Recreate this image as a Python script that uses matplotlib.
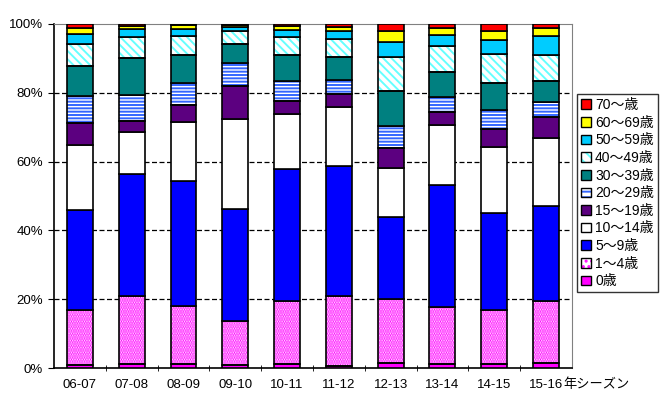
import numpy as np
import matplotlib.pyplot as plt
from matplotlib.patches import Patch
from matplotlib.ticker import FuncFormatter

plt.rcParams['font.family'] = ['Liberation Sans', 'Noto Sans CJK JP']
plt.rcParams['hatch.linewidth'] = 1.4

# data (% share per season)
seasons = ['06-07', '07-08', '08-09', '09-10', '10-11', '11-12', '12-13', '13-14', '14-15', '15-16']
age_0 = [0.9, 1.3, 1.3, 0.9, 1.3, 0.8, 1.4, 1.2, 1.2, 1.4]
age_1_4 = [15.9, 19.6, 16.7, 12.7, 18.1, 20.1, 18.6, 16.5, 15.6, 18.0]
age_5_9 = [29.0, 35.6, 36.3, 32.5, 38.3, 37.9, 23.8, 35.5, 28.4, 27.6]
age_10_14 = [19.1, 12.2, 17.3, 26.2, 16.2, 17.1, 14.4, 17.5, 19.1, 19.7]
age_15_19 = [6.4, 3.2, 4.7, 9.5, 3.8, 3.8, 5.6, 3.8, 5.0, 6.1]
age_20_29 = [7.6, 7.5, 6.6, 6.7, 5.8, 4.1, 6.6, 4.1, 5.7, 4.5]
age_30_39 = [8.8, 10.7, 8.1, 5.6, 7.5, 6.6, 10.2, 7.5, 7.9, 6.2]
age_40_49 = [6.5, 6.1, 5.5, 3.9, 5.2, 5.3, 9.8, 7.5, 8.4, 7.5]
age_50_59 = [2.9, 2.4, 1.9, 0.9, 2.1, 2.1, 4.3, 3.2, 4.1, 5.5]
age_60_69 = [1.6, 0.8, 1.1, 0.6, 1.1, 1.2, 3.1, 2.0, 2.4, 2.2]
age_70 = [1.3, 0.6, 0.5, 0.4, 0.6, 1.0, 2.2, 1.2, 2.2, 1.3]

# label, values, face colour, hatch, hatch colour
layers = [
    ('0歳', age_0, '#ff00ff', None, None),
    ('1～4歳', age_1_4, 'white', '.......', '#ff00ff'),
    ('5～9歳', age_5_9, '#0000ff', None, None),
    ('10～14歳', age_10_14, 'white', None, None),
    ('15～19歳', age_15_19, '#5c0080', None, None),
    ('20～29歳', age_20_29, 'white', '-----', '#3366ff'),
    ('30～39歳', age_30_39, '#008080', None, None),
    ('40～49歳', age_40_49, 'white', '\\\\\\\\', '#66ffff'),
    ('50～59歳', age_50_59, '#00ccff', None, None),
    ('60～69歳', age_60_69, '#ffff00', None, None),
    ('70～歳', age_70, '#ff0000', None, None),
]

fig = plt.figure(figsize=(6.64, 3.95), dpi=100)
ax = fig.add_axes([0.0813, 0.0676, 0.78, 0.8724])

x = np.arange(len(seasons))
width = 0.5
bottom = np.zeros(len(seasons))
handles = []
for label, vals, face, hatch, hc in layers:
    vals = np.array(vals)
    if hatch:
        ax.bar(x, vals, width, bottom=bottom, color=face, edgecolor=hc, hatch=hatch, lw=0, zorder=2)
        ax.bar(x, vals, width, bottom=bottom, fill=False, edgecolor='black', lw=1.2, zorder=3)
        h = (Patch(facecolor=face, edgecolor=hc, hatch=hatch[:3], lw=0),
             Patch(fill=False, edgecolor='black', lw=1))
    else:
        ax.bar(x, vals, width, bottom=bottom, color=face, edgecolor='black', lw=1.2, zorder=3)
        h = Patch(facecolor=face, edgecolor='black', lw=1)
    handles.append((h, label))
    bottom += vals

ax.set_xlim(-0.5, len(seasons) - 0.5)
ax.set_ylim(0, 100)
ax.set_yticks(np.arange(0, 101, 20))
ax.yaxis.set_major_formatter(FuncFormatter(lambda v, p: f'{v:.0f}%'))
for yv in [20, 40, 60, 80]:
    ax.axhline(yv, color='black', lw=0.9, ls=(0, (4, 2)), zorder=1)

ax.set_xticks(x, seasons)
ax.set_xticks(np.arange(0.5, len(seasons) - 0.5), minor=True)
ax.tick_params(axis='x', which='major', length=0, pad=8, labelsize=9.5)
ax.tick_params(axis='x', which='minor', length=4, direction='inout')
ax.tick_params(axis='y', length=4, labelsize=9.5, pad=4)

for s in ['top', 'right']:
    ax.spines[s].set_color('#808080')
ax.spines['left'].set_linewidth(1.2)
ax.spines['bottom'].set_linewidth(1.2)

last = ax.get_xticklabels()[-1]
ax.annotate('年シーズン', xy=(1, 0), xycoords=last, ha='left', va='bottom', fontsize=9.5)

hs = [h for h, l in handles][::-1]
ls = [l for h, l in handles][::-1]
leg = fig.legend(hs, ls, loc='upper left', bbox_to_anchor=(0.869, 0.762), fontsize=10,
                 frameon=True, fancybox=False, edgecolor='black', borderaxespad=0,
                 handlelength=0.7, handleheight=0.7, handletextpad=0.3,
                 labelspacing=0.26, borderpad=0.3)
leg.get_frame().set_linewidth(1)

fig.savefig('out.png', dpi=100)
